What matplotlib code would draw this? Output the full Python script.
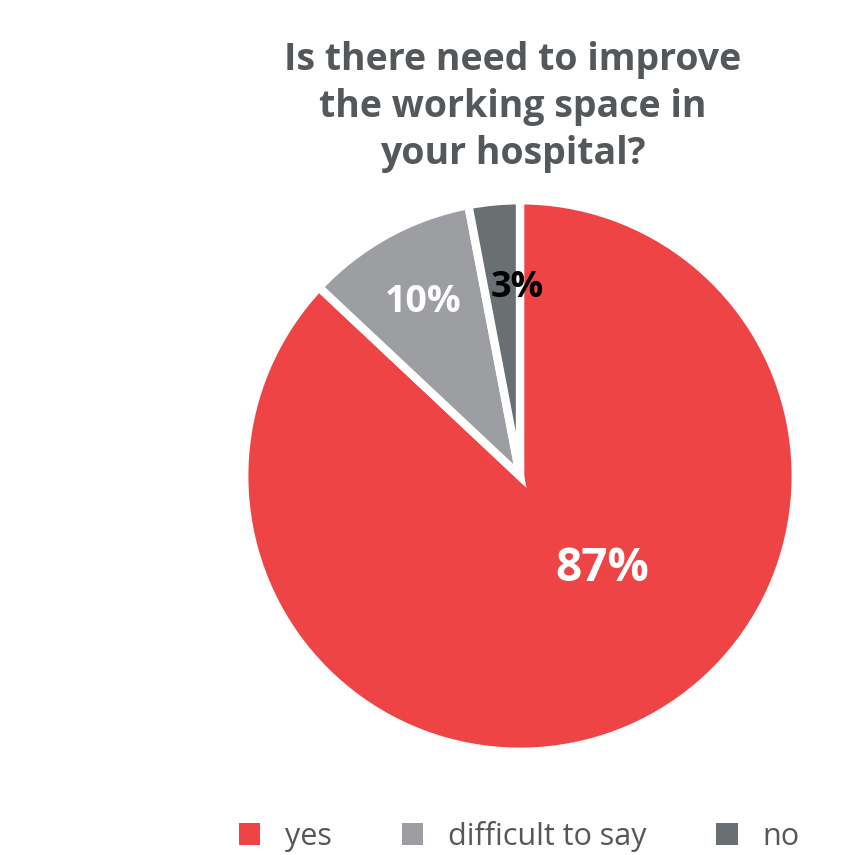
import matplotlib
matplotlib.use("Agg")
import matplotlib.pyplot as plt
from matplotlib.patches import Patch

categories = ["yes", "difficult to say", "no"]
shares = [87, 10, 3]
labels = ["87%", "10%", "3%"]
colors = ["#EF4446", "#9C9EA1", "#6A7072"]
label_colors = ["white", "white", "black"]
title = "Is there need to improve\nthe working space in\nyour hospital?"

plt.rcParams["font.family"] = ["Open Sans", "DejaVu Sans"]

fig = plt.figure(figsize=(8.58, 8.55), dpi=100)
fig.patch.set_facecolor("white")

ax = fig.add_axes([247 / 858, 106 / 855, 546 / 858, 546 / 855])
wedges, _ = ax.pie(
    shares,
    colors=colors,
    startangle=90,
    counterclock=False,
    radius=1.0,
    wedgeprops=dict(edgecolor="white", linewidth=6),
)
ax.set_xlim(-0.99, 0.99)
ax.set_ylim(-0.99, 0.99)
ax.set_aspect("equal")
ax.axis("off")

# percentage labels placed inside each wedge
label_pos = [(0.30, -0.335), (-0.35, 0.63), (-0.01, 0.68)]
label_sizes = [33, 27, 26]
for (x, y), txt, c, s in zip(label_pos, labels, label_colors, label_sizes):
    ax.text(x, y, txt, ha="center", va="center", color=c,
            fontsize=s, fontweight="bold")

fig.text(513 / 858, 1 - 107 / 855, title, ha="center", va="center",
         fontsize=27, fontweight="bold", color="#54585A", linespacing=1.32)

handles = [Patch(facecolor=c, edgecolor="none") for c in colors]
leg = fig.legend(handles, categories, loc="center", ncol=3,
                 bbox_to_anchor=(519 / 858, 1 - 836 / 855), frameon=False,
                 fontsize=22, handlelength=0.7, handleheight=0.7,
                 handletextpad=0.8, columnspacing=2.3, labelcolor="#54585A")

fig.savefig("out.png", dpi=100, facecolor="white")
